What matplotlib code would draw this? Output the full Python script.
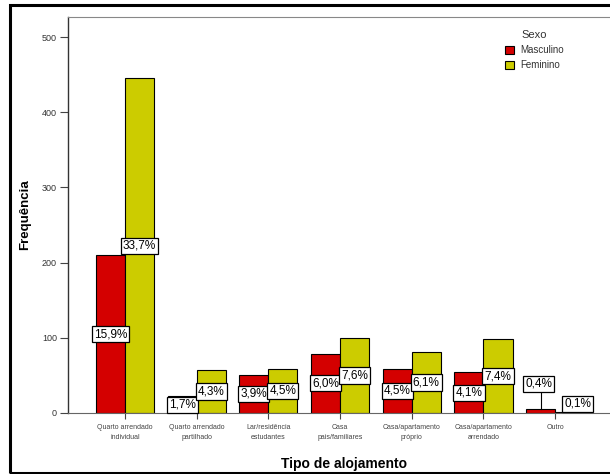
import matplotlib
matplotlib.use("Agg")
import matplotlib.pyplot as plt
from matplotlib.patches import Rectangle
import numpy as np

plt.rcParams['font.family'] = ['Liberation Sans', 'DejaVu Sans']

categories = ["Quarto arrendado\nindividual", "Quarto arrendado\npartilhado",
              "Lar/residência\nestudantes", "Casa\npais/familiares",
              "Casa/apartamento\npróprio", "Casa/apartamento\narrendado", "Outro"]
masculino = [210, 22, 51, 79, 59, 54, 5]
feminino = [445, 57, 59, 100, 81, 98, 1]
pct_m = ["15,9%", "1,7%", "3,9%", "6,0%", "4,5%", "4,1%", "0,4%"]
pct_f = ["33,7%", "4,3%", "4,5%", "7,6%", "6,1%", "7,4%", "0,1%"]
yticks = [0, 100, 200, 300, 400, 500]

W, H = 610, 474
fig = plt.figure(figsize=(W / 100, H / 100), dpi=100)
fig.patches.append(Rectangle((10 / W, 1 - 473 / H), 700 / W, (473 - 5) / H,
                             transform=fig.transFigure, fill=False,
                             edgecolor='black', linewidth=2.2))

left, right, top, bottom = 68, 620, 17, 413
ax = fig.add_axes([left / W, 1 - bottom / H, (right - left) / W, (bottom - top) / H])
ax.set_facecolor('white')

x = np.arange(len(categories))
bw = 0.405
red = '#d40000'
yel = '#cccc00'
ax.bar(x - bw / 2, masculino, bw, color=red, edgecolor='black', linewidth=0.8, label='Masculino', zorder=2)
ax.bar(x + bw / 2, feminino, bw, color=yel, edgecolor='black', linewidth=0.8, label='Feminino', zorder=2)

ax.set_ylim(0, 526.6)
ax.set_xlim(-0.795, 6.904)

bbox = dict(boxstyle='square,pad=0.18', facecolor='white', edgecolor='black', linewidth=0.9)
fs = 8.5
for i in range(len(categories)):
    if i == len(categories) - 1:
        xm = x[i] - bw / 2
        ax.plot([xm, xm], [masculino[i], 30], color='black', linewidth=0.8, zorder=3)
        ax.text(xm - 0.03, 39, pct_m[i], ha='center', va='center', fontsize=fs, bbox=bbox, zorder=4)
        xf = x[i] + bw / 2
        ax.text(xf + 0.11, 12, pct_f[i], ha='center', va='center', fontsize=fs, bbox=bbox, zorder=4)
    else:
        ax.text(x[i] - bw / 2, masculino[i] / 2, pct_m[i], ha='center', va='center',
                fontsize=fs, bbox=bbox, zorder=4)
        ax.text(x[i] + bw / 2, feminino[i] / 2, pct_f[i], ha='center', va='center',
                fontsize=fs, bbox=bbox, zorder=4)

ax.set_yticks(yticks)
ax.set_yticklabels([str(v) for v in yticks], fontsize=6.5, color='#333333')
ax.set_xticks(x)
ax.set_xticklabels(categories, fontsize=5, color='#444444', linespacing=1.5)
ax.tick_params(axis='y', length=6, width=0.8, color='#444444', pad=2)
ax.tick_params(axis='x', length=4, width=0.8, color='#444444', pad=4)

ax.spines['right'].set_visible(False)
ax.spines['left'].set_color('#333333')
ax.spines['left'].set_linewidth(1.0)
ax.spines['top'].set_color('#888888')
ax.spines['top'].set_linewidth(0.8)
ax.spines['bottom'].set_color('#666666')
ax.spines['bottom'].set_linewidth(0.8)

ax.set_ylabel('Frequência', fontsize=9.5, fontweight='bold', labelpad=8)
ax.set_xlabel('Tipo de alojamento', fontsize=10, fontweight='bold', labelpad=12)

leg = ax.legend(title='Sexo', loc='upper left', bbox_to_anchor=(0.78, 0.985),
                frameon=False, fontsize=7, title_fontsize=8, handlelength=0.9,
                handleheight=0.9, handletextpad=0.6, labelspacing=0.55, borderpad=0.2)
for t in leg.get_texts():
    t.set_color('#333333')
leg.get_title().set_color('#333333')

fig.savefig('out.png', dpi=100)
